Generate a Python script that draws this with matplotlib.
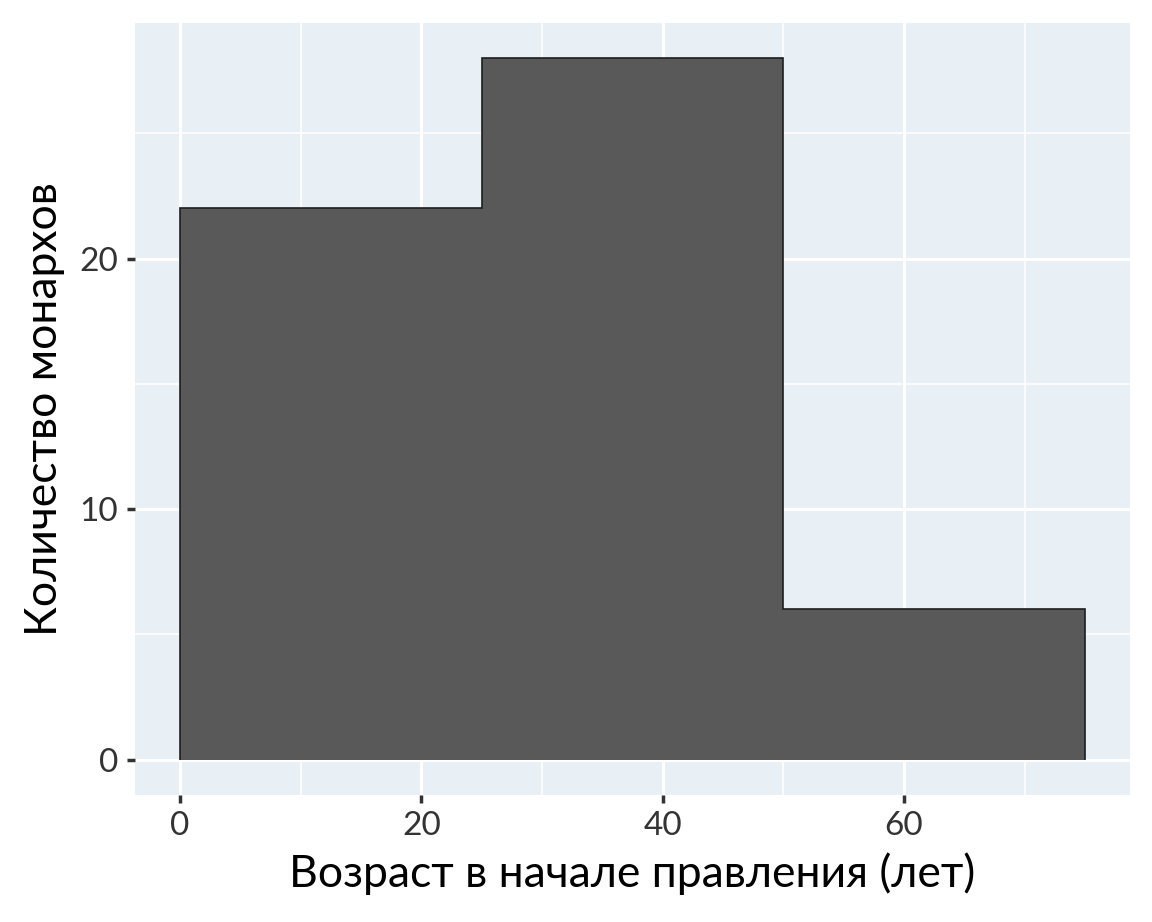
#!/usr/bin/env python3

from matplotlib import pyplot as plt

# histogram bins (age at start of reign) and counts
bin_edges = [0, 25, 50, 75]
counts = [22, 28, 6]

x_ticks = [0, 20, 40, 60]
y_ticks = [0, 10, 20]
x_minor = [10, 30, 50, 70]
y_minor = [5, 15, 25]

x_label = "Возраст в начале правления (лет)"
y_label = "Количество монархов"

panel_bg = "#e8f0f5"
bar_fill = "#595959"


def main():
    plt.rcParams["font.family"] = ["Lato", "DejaVu Sans"]
    fig = plt.figure(figsize=(11.52, 9.22), dpi=100)
    ax = fig.add_axes([0.117, 0.138, 0.864, 0.837])
    ax.set_facecolor(panel_bg)

    # ggplot-like histogram: one filled outline, no inner edges
    ax.stairs(counts, bin_edges, baseline=0, fill=True,
              facecolor=bar_fill, edgecolor="#1e1e1e", linewidth=1.2, zorder=3)

    x_pad = 0.05 * (bin_edges[-1] - bin_edges[0])
    y_pad = 0.05 * max(counts)
    ax.set_xlim(bin_edges[0] - x_pad, bin_edges[-1] + x_pad)
    ax.set_ylim(-y_pad, max(counts) + y_pad)

    ax.set_xticks(x_ticks)
    ax.set_yticks(y_ticks)
    ax.set_xticks(x_minor, minor=True)
    ax.set_yticks(y_minor, minor=True)
    ax.grid(which="major", color="white", linewidth=2.2, zorder=1)
    ax.grid(which="minor", color="white", linewidth=1.1, zorder=1)
    ax.set_axisbelow(True)
    ax.tick_params(which="minor", length=0)
    ax.tick_params(which="major", length=6, width=2.5, color="#333333",
                   labelsize=24, labelcolor="#333333", pad=6)

    for side in ax.spines.values():
        side.set_visible(False)

    ax.set_xlabel(x_label, fontsize=32, color="black", labelpad=8)
    ax.set_ylabel(y_label, fontsize=32, color="black", labelpad=10)

    fig.savefig("out.png", dpi=100, facecolor="white")
    plt.close()


if __name__ == "__main__":
    main()
